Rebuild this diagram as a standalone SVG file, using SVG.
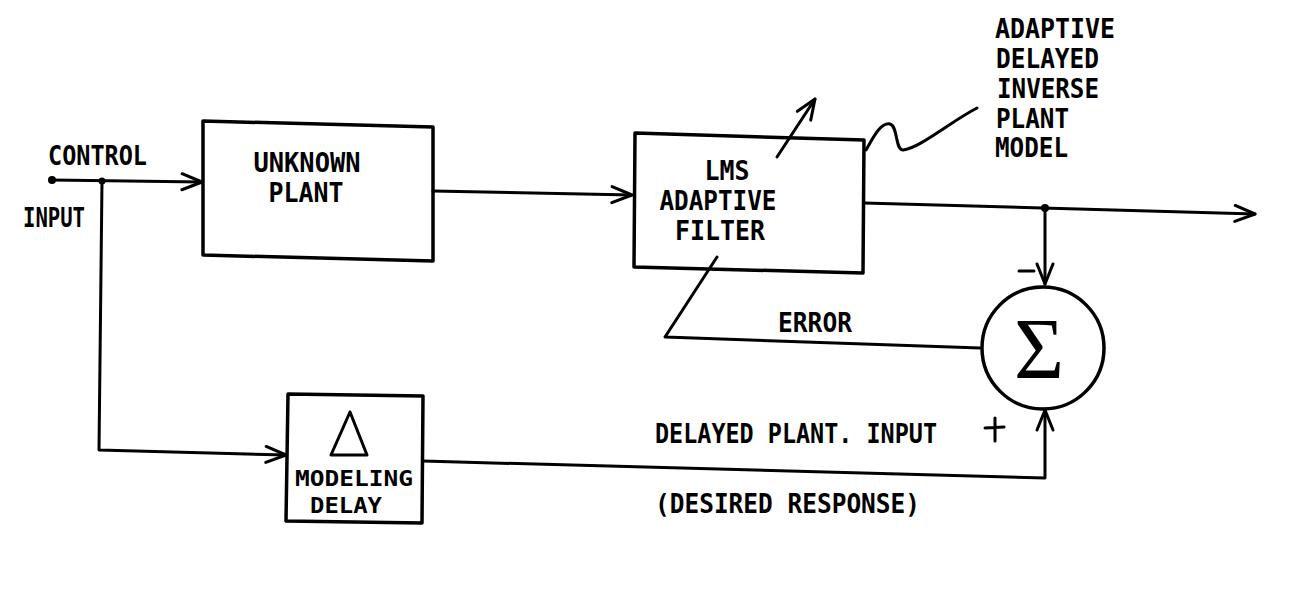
<svg xmlns="http://www.w3.org/2000/svg" width="1308" height="615" viewBox="0 0 1308 615">
<defs>
<style>
.ln{fill:none;stroke:#000;stroke-width:3;stroke-linecap:round;stroke-linejoin:round}
.bx{fill:none;stroke:#000;stroke-width:3.5;stroke-linejoin:round}
.t{font-family:"DejaVu Sans Mono","Liberation Mono",monospace;font-size:26px;font-weight:bold;fill:#000}
.s{font-size:22px}
.c{text-anchor:middle}
</style>
<marker id="ah" viewBox="-22 -10 24 20" markerWidth="24" markerHeight="20" refX="0" refY="0" orient="auto" markerUnits="userSpaceOnUse">
<polyline points="-20,-8 0,0 -20,8" fill="none" stroke="#000" stroke-width="3" stroke-linecap="round" stroke-linejoin="round"/>
</marker>
</defs>
<rect width="1308" height="615" fill="#fff"/>

<g id="connectors">
<path class="ln" d="M52,180 L202,182" marker-end="url(#ah)"/>
<path class="ln" d="M102,181 L99,450 L286,455" marker-end="url(#ah)"/>
<path class="ln" d="M433,191 L632,195" marker-end="url(#ah)"/>
<path class="ln" d="M864,203 L1255,214" marker-end="url(#ah)"/>
<path class="ln" d="M1045,208 L1045,284" marker-end="url(#ah)"/>
<path class="ln" d="M423,461 L1045,478 L1045,410" marker-end="url(#ah)"/>
<path class="ln" d="M980,348 L665,337 L717,257"/>
<path class="ln" d="M777,157 L815,99" marker-end="url(#ah)"/>
<path class="ln" d="M866,150 C872,140 880,122 890,124 C898,126 895,150 903,150 C920,148 950,122 977,108"/>
<circle cx="52" cy="180" r="4" fill="#000"/>
<circle cx="102" cy="181" r="3.5" fill="#000"/>
<circle cx="1045" cy="208" r="4" fill="#000"/>
</g>

<g id="control-input">
<text class="t" x="48" y="165" textLength="99" lengthAdjust="spacingAndGlyphs">CONTROL</text>
<text class="t" x="23" y="227" textLength="62" lengthAdjust="spacingAndGlyphs">INPUT</text>
</g>

<g id="unknown-plant">
<path class="bx" d="M203,121 L433,127 L433,261 L203,255 Z"/>
<text class="t c" x="307" y="172" textLength="107" lengthAdjust="spacingAndGlyphs">UNKNOWN</text>
<text class="t c" x="306" y="202" textLength="75" lengthAdjust="spacingAndGlyphs">PLANT</text>
</g>

<g id="lms-filter">
<path class="bx" d="M635,133 L864,140 L863,273 L634,267 Z"/>
<text class="t c" x="727" y="180" textLength="45" lengthAdjust="spacingAndGlyphs">LMS</text>
<text class="t c" x="718" y="210" textLength="117" lengthAdjust="spacingAndGlyphs">ADAPTIVE</text>
<text class="t c" x="720" y="240" textLength="90" lengthAdjust="spacingAndGlyphs">FILTER</text>
</g>

<g id="model-label">
<text class="t" x="995" y="38" textLength="120" lengthAdjust="spacingAndGlyphs">ADAPTIVE</text>
<text class="t" x="996" y="68" textLength="103" lengthAdjust="spacingAndGlyphs">DELAYED</text>
<text class="t" x="997" y="98" textLength="102" lengthAdjust="spacingAndGlyphs">INVERSE</text>
<text class="t" x="996" y="128" textLength="73" lengthAdjust="spacingAndGlyphs">PLANT</text>
<text class="t" x="995" y="157" textLength="73" lengthAdjust="spacingAndGlyphs">MODEL</text>
</g>

<g id="summer">
<circle cx="1043" cy="348" r="61" fill="none" stroke="#000" stroke-width="3.5"/>
<text x="1039" y="378" text-anchor="middle" font-family="Liberation Serif, serif" font-size="86" fill="#000">Σ</text>
<path class="ln" d="M1019,271 L1034,271"/>
<path class="ln" d="M985,428 L1004,427 M995,418 L995,441"/>
</g>

<g id="error-label">
<text class="t c" x="815" y="332" textLength="74" lengthAdjust="spacingAndGlyphs">ERROR</text>
</g>

<g id="modeling-delay">
<path class="bx" d="M288,394 L423,396 L422,523 L286,521 Z"/>
<path class="ln" d="M350,412 L331,455 L367,455 Z"/>
<text class="t s c" x="354" y="486" textLength="118" lengthAdjust="spacingAndGlyphs">MODELING</text>
<text class="t s c" x="346" y="513" textLength="72" lengthAdjust="spacingAndGlyphs">DELAY</text>
</g>

<g id="desired-labels">
<text class="t" x="655" y="443" textLength="282" lengthAdjust="spacingAndGlyphs">DELAYED PLANT. INPUT</text>
<text class="t" x="655" y="513" textLength="265" lengthAdjust="spacingAndGlyphs">(DESIRED RESPONSE)</text>
</g>
</svg>
